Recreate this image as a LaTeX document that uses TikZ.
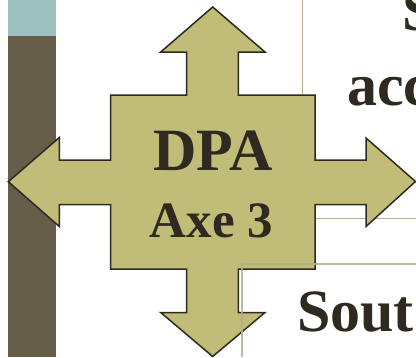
\documentclass[tikz,border=0pt]{standalone}
\usepackage{fontspec}
\setmainfont{Liberation Serif}

\definecolor{crossfill}{HTML}{C1BC77}
\definecolor{crossline}{HTML}{2E2A1F}
\definecolor{barteal}{HTML}{9DC1C0}
\definecolor{barbrown}{HTML}{675E49}
\definecolor{guidegray}{HTML}{B3AE8E}
\definecolor{inkdark}{HTML}{2E2A1F}

\tikzset{
	guide/.style = {draw = guidegray, line width = 1.5},
	label/.style = {inner sep = 0, text = inkdark, font = \bfseries}
}

\begin{document}
\begin{tikzpicture}[x = 1pt, y = -1pt]

		\useasboundingbox (0, 0) rectangle (416, 357);
		\clip (0, 0) rectangle (416, 357);

		\fill[barteal] (8, 0) rectangle (56, 36);
		\fill[barbrown] (8, 36) rectangle (56, 357);

		\draw[guide] (302.7, 0) -- (302.7, 95);
		\draw[guide] (315, 218.5) -- (416, 218.5);

		\filldraw[draw = crossline, fill = crossfill, line width = 1.5, line join = miter]
			(212.7, 7) -- (265, 52) -- (238.3, 52) -- (238.3, 95) -- (315, 95) -- (315, 160)
			-- (366, 160) -- (366, 138) -- (415.5, 181.5) -- (366, 226.5) -- (366, 204.5)
			-- (315, 204.5) -- (315, 269) -- (238.3, 269) -- (238.3, 312.5) -- (265, 312.5)
			-- (212.7, 356.5) -- (160.7, 312.5) -- (186.5, 312.5) -- (186.5, 269) -- (110.7, 269)
			-- (110.7, 204.5) -- (59.3, 204.5) -- (59.3, 226.5) -- (8.3, 181.7) -- (59.3, 137.5)
			-- (59.3, 160) -- (110.7, 160) -- (110.7, 95) -- (186.5, 95) -- (186.5, 52)
			-- (160.7, 52) -- cycle;

		\draw[draw = guidegray, line width = 2, opacity = 0.85] (241.7, 357) -- (241.7, 264.3) -- (416, 264.3);

		\node[label, anchor = base, font = \bfseries\fontsize{60}{72}\selectfont] (dpa) at (213, 170.7) {DPA};
		\node[label, anchor = base, font = \bfseries\fontsize{51}{60}\selectfont] (axe) at (211.5, 237) {Axe 3};

		\node[label, anchor = base west, font = \bfseries\fontsize{60}{72}\selectfont] (topword) at (402, 30) {S};
		\node[label, anchor = base west, font = \bfseries\fontsize{60}{72}\selectfont] (midword) at (347, 105) {acc};
		\node[label, anchor = base west, font = \bfseries\fontsize{60}{72}\selectfont] (lowword) at (297, 331.7) {Sout};

\end{tikzpicture}
\end{document}
